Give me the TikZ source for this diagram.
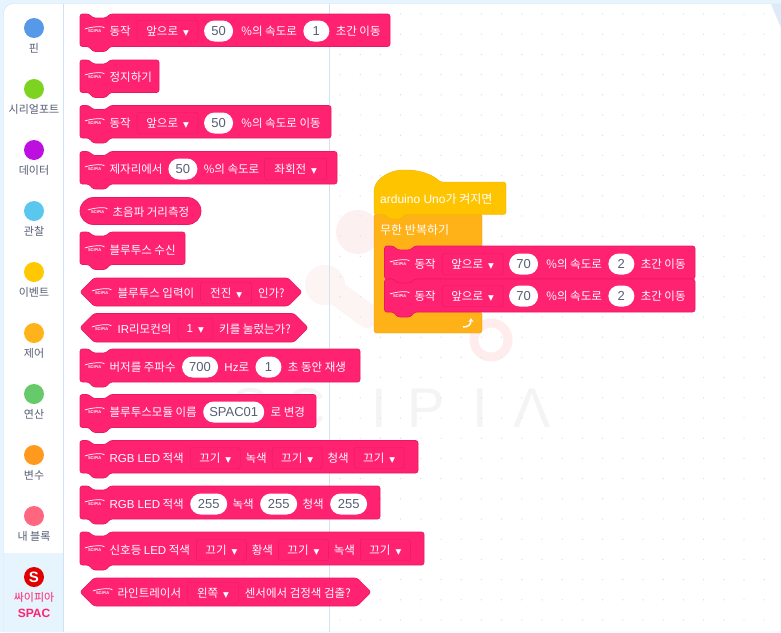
\documentclass[tikz,border=0pt]{standalone}
\usepackage{fontspec}
\setmainfont{Noto Sans CJK KR}
\newfontfamily\latn{Liberation Sans}
\newfontfamily\arrowfont{DejaVu Sans}
\usepackage{xcolor}
\usetikzlibrary{positioning,arrows.meta,calc}

\definecolor{blockpink}{HTML}{FF2270}
\definecolor{blockedge}{HTML}{E91A62}
\definecolor{hatyellow}{HTML}{FFC400}
\definecolor{loopamber}{HTML}{FFB118}
\definecolor{panelblue}{HTML}{E6F4FD}
\definecolor{lineblue}{HTML}{CFE3F7}
\definecolor{inkgray}{HTML}{575E75}
\definecolor{mark}{HTML}{F4F4F6}

\tikzset{
  lbl/.style={text=white,inner sep=0pt,font=\fontsize{11.5}{12}\selectfont},
  hatlbl/.style={lbl,anchor=west,font=\fontsize{12}{13}\selectfont},
  menu/.style={draw=blockedge,fill=blockpink,rounded corners=2.5pt,text=white,inner sep=0pt,
    minimum height=21.5pt,minimum width=#1,font=\fontsize{11.5}{12}\selectfont},
  field/.style={fill=white,rounded corners=10.5pt,text=inkgray,inner sep=0pt,
    minimum height=21pt,minimum width=#1,font=\latn\fontsize{13}{14}\selectfont},
  logo/.style={anchor=west,text=white,inner sep=0pt,minimum width=19pt,
    font=\latn\bfseries\fontsize{4}{4}\selectfont},
  swoosh/.style={white,line width=0.7pt,line cap=round},
  blockfill/.style={fill=blockpink,draw=blockedge,line width=0.7pt,rounded corners=2.5pt},
  catdot/.style={circle,minimum size=20pt,inner sep=0pt},
  catlabel/.style={text=inkgray,inner sep=0pt,font=\fontsize{11}{12}\selectfont},
  waterletter/.style={text=mark,inner sep=0pt,font=\latn\fontsize{56}{56}\selectfont}
}

\newcommand{\dropmark}{\hspace{5pt}{\arrowfont\fontsize{7.5}{8}\selectfont ▼}}
% stack block: left, top, right, bottom
\newcommand{\stackblock}[4]{
  \draw[blockfill] (#1,#2) -- (#1+9,#2) -- (#1+13,#2+4) -- (#1+26,#2+4) -- (#1+30,#2) -- (#3,#2)
    -- (#3,#4) -- (#1+30,#4) -- (#1+26,#4+5) -- (#1+13,#4+5) -- (#1+9,#4) -- (#1,#4) -- cycle;
}
% boolean block: left, top, right, bottom
\newcommand{\hexblock}[4]{
  \draw[blockfill] (#1,#2/2+#4/2) -- (#1+14,#2) -- (#3-14,#2) -- (#3,#2/2+#4/2) -- (#3-14,#4) -- (#1+14,#4) -- cycle;
}
\newcommand{\logomark}[3]{
  \node[logo] (#1) at (#2,#3) {SCIPIA};
  \draw[swoosh] ([yshift=0.5pt]#1.north west) .. controls ([yshift=3.5pt]#1.north) and ([yshift=3pt]#1.north east) .. ([yshift=1.5pt]#1.north east);
}

\begin{document}
\begin{tikzpicture}[x=1pt,y=-1pt]
    \useasboundingbox (0,0) rectangle (781,632);
    % frame
    \fill[panelblue] (0,0) rectangle (781,632);
    \filldraw[fill=white,draw=lineblue] (3.5,632) [rounded corners=10pt] -- (3.5,3.5) [sharp corners] -- (781,3.5) -- (781,632) -- cycle;
    \fill[panelblue] (4,553) rectangle (63,632);
    \fill[lineblue!70] (771,4) -- (781,4) -- (781,28) -- cycle;

    % watermark
    \fill[mark!60!pink!35] (325,285) circle (20);
    \draw[mark!60!pink!35,line width=24pt,line cap=round] (325,285) -- (368,316);
    \fill[mark!60!pink!45] (358,232) circle (22);
    \draw[red!7,line width=9pt] (491,340) circle (17);
    \node[waterletter] (wmS) at (250,408) {S};
    \node[waterletter] (wmC) at (306,408) {C};
    \node[waterletter,font=\latn\fontsize{56}{56}\selectfont] (wmI) at (379,408) {I};
    \node[waterletter] (wmP) at (426,408) {P};
    \node[waterletter] (wmJ) at (480,408) {I};
    \node[waterletter] (wmA) at (532,408) {Λ};
    \foreach \i in {0,...,21}
      \foreach \j in {0,...,30}
        \fill[black!13] (340+20.2*\i,14+20.2*\j) circle (0.7);

    \draw[lineblue] (63.5,4) -- (63.5,632);
    \draw[lineblue] (329.5,4) -- (329.5,632);

    % categories
    \foreach \cy/\lab/\col in {28/핀/5599E8,89/시리얼포트/7ED321,150/데이터/BD10E0,211/관찰/5AC8EE,
        272/이벤트/FFC800,333/제어/FFB31A,394/연산/66C96A,455/변수/FF9A1F,516/내 블록/FF6680} {
      \definecolor{catcol}{HTML}{\col}
      \node[catdot,fill=catcol] (dot\cy) at (34,\cy) {};
      \node[catlabel,below=5pt of dot\cy] (lab\cy) {\lab};
    }
    \node[catdot,fill=red!88!black,text=white,font=\latn\bfseries\fontsize{15}{15}\selectfont] (dotS) at (34,577) {S};
    \node[catlabel,text=blockpink,below=5pt of dotS] (labS) {싸이피아};
    \node[catlabel,text=blockpink,font=\latn\bfseries\fontsize{12}{12}\selectfont,below=6pt of labS] (labSP) {SPAC};

    % palette
    \stackblock{80}{14}{390}{46.5}
    \logomark{a}{85}{31}
    \node[lbl,right=5pt of a] (a1) {동작};
    \node[menu=61pt,right=6pt of a1] (a2) {앞으로\dropmark};
    \node[field=29pt,right=5.5pt of a2] (a3) {50};
    \node[lbl,right=8pt of a3] (a4) {\%의 속도로};
    \node[field=26pt,right=6pt of a4] (a5) {1};
    \node[lbl,right=6pt of a5] (a6) {초간 이동};

    \stackblock{80}{60}{159}{92.5}
    \logomark{b}{85}{77}
    \node[lbl,right=5pt of b] (b1) {정지하기};

    \stackblock{80}{105.5}{331}{138}
    \logomark{c}{85}{123}
    \node[lbl,right=5pt of c] (c1) {동작};
    \node[menu=61pt,right=6pt of c1] (c2) {앞으로\dropmark};
    \node[field=29pt,right=5.5pt of c2] (c3) {50};
    \node[lbl,right=8pt of c3] (c4) {\%의 속도로 이동};

    \stackblock{80}{151.5}{337}{184}
    \logomark{d}{85}{169}
    \node[lbl,right=5pt of d] (d1) {제자리에서};
    \node[field=29pt,right=5.5pt of d1] (d2) {50};
    \node[lbl,right=6pt of d2] (d3) {\%의 속도로};
    \node[menu=62pt,right=5pt of d3] (d4) {좌회전\dropmark};

    \draw[blockfill,rounded corners=13.5pt] (80,197.5) rectangle (201,224.5);
    \logomark{e}{88}{212}
    \node[lbl,right=5pt of e] (e1) {초음파 거리측정};

    \stackblock{80}{232}{185}{264.5}
    \logomark{f}{85}{250}
    \node[lbl,right=5pt of f] (f1) {블루투스 수신};

    \hexblock{80}{278}{302}{306}
    \logomark{g}{92}{293}
    \node[lbl,right=6pt of g] (g1) {블루투스 입력이};
    \node[menu=51pt,right=6pt of g1] (g2) {전진\dropmark};
    \node[lbl,right=6pt of g2] (g3) {인가?};

    \hexblock{80}{313.5}{308}{342}
    \logomark{h}{92}{329}
    \node[lbl,right=6pt of h] (h1) {{\latn IR}리모컨의};
    \node[menu=35pt,right=6pt of h1] (h2) {{\latn 1}\dropmark};
    \node[lbl,right=6pt of h2] (h3) {키를 눌렀는가?};

    \stackblock{80}{349}{360}{382}
    \logomark{i}{85}{367}
    \node[lbl,right=5pt of i] (i1) {버저를 주파수};
    \node[field=36pt,right=6pt of i1] (i2) {700};
    \node[lbl,right=6pt of i2] (i3) {{\latn Hz}로};
    \node[field=26pt,right=6pt of i3] (i4) {1};
    \node[lbl,right=6pt of i4] (i5) {초 동안 재생};

    \stackblock{80}{394.5}{316}{427.5}
    \logomark{j}{85}{412}
    \node[lbl,right=5pt of j] (j1) {블루투스모듈 이름};
    \node[field=61pt,right=6pt of j1] (j2) {SPAC01};
    \node[lbl,right=6pt of j2] (j3) {로 변경};

    \stackblock{80}{440.5}{418}{473}
    \logomark{k}{85}{458}
    \node[lbl,right=5pt of k] (k1) {{\latn RGB LED} 적색};
    \node[menu=50pt,right=6pt of k1] (k2) {끄기\dropmark};
    \node[lbl,right=5pt of k2] (k3) {녹색};
    \node[menu=50pt,right=5pt of k3] (k4) {끄기\dropmark};
    \node[lbl,right=5pt of k4] (k5) {청색};
    \node[menu=50pt,right=5pt of k5] (k6) {끄기\dropmark};

    \stackblock{80}{486}{380}{519}
    \logomark{l}{85}{504}
    \node[lbl,right=5pt of l] (l1) {{\latn RGB LED} 적색};
    \node[field=37pt,right=6pt of l1] (l2) {255};
    \node[lbl,right=5pt of l2] (l3) {녹색};
    \node[field=37pt,right=6pt of l3] (l4) {255};
    \node[lbl,right=5pt of l4] (l5) {청색};
    \node[field=37pt,right=6pt of l5] (l6) {255};

    \stackblock{80}{532}{424}{565}
    \logomark{m}{85}{550}
    \node[lbl,right=5pt of m] (m1) {신호등 {\latn LED} 적색};
    \node[menu=50pt,right=6pt of m1] (m2) {끄기\dropmark};
    \node[lbl,right=5pt of m2] (m3) {황색};
    \node[menu=50pt,right=5pt of m3] (m4) {끄기\dropmark};
    \node[lbl,right=5pt of m4] (m5) {녹색};
    \node[menu=50pt,right=5pt of m5] (m6) {끄기\dropmark};

    \hexblock{80}{578}{371}{606}
    \logomark{n}{93}{593}
    \node[lbl,right=5pt of n] (n1) {라인트레이서};
    \node[menu=51pt,right=6pt of n1] (n2) {왼쪽\dropmark};
    \node[lbl,right=6pt of n2] (n3) {센서에서 검정색 검출?};

    % script
    \draw[fill=loopamber,draw=loopamber!90!black,rounded corners=2.5pt] (374,214) -- (482,214) -- (482,250) -- (384.5,250)
      -- (384.5,312) -- (482,312) -- (482,333) -- (374,333) -- cycle;
    \node[hatlbl] (loop) at (380,230) {무한 반복하기};
    \draw[white,line width=1.5pt,-{Stealth[length=4pt,width=5pt]}] (463,327) .. controls (468,327) and (471,325) .. (471,318);

    \draw[fill=hatyellow,draw=hatyellow!92!black,rounded corners=2.5pt] (374,214.5) -- (374,190) .. controls (377,177) and (392,170) .. (405,170)
      .. controls (420,170) and (433,175) .. (440,182) -- (506,182) -- (506,214.5) -- (405,214.5) -- (401,219) -- (389,219) -- (385,214.5) -- cycle;
    \node[hatlbl] (hat) at (380,199) {{\latn arduino Uno}가 켜지면};

    \stackblock{384.5}{246}{695}{279}
    \logomark{p}{390}{264}
    \node[lbl,right=5pt of p] (p1) {동작};
    \node[menu=61pt,right=6pt of p1] (p2) {앞으로\dropmark};
    \node[field=29pt,right=5.5pt of p2] (p3) {70};
    \node[lbl,right=8pt of p3] (p4) {\%의 속도로};
    \node[field=26pt,right=6pt of p4] (p5) {2};
    \node[lbl,right=6pt of p5] (p6) {초간 이동};

    \stackblock{384.5}{279}{695}{312}
    \logomark{q}{390}{296}
    \node[lbl,right=5pt of q] (q1) {동작};
    \node[menu=61pt,right=6pt of q1] (q2) {앞으로\dropmark};
    \node[field=29pt,right=5.5pt of q2] (q3) {70};
    \node[lbl,right=8pt of q3] (q4) {\%의 속도로};
    \node[field=26pt,right=6pt of q4] (q5) {2};
    \node[lbl,right=6pt of q5] (q6) {초간 이동};
\end{tikzpicture}
\end{document}
